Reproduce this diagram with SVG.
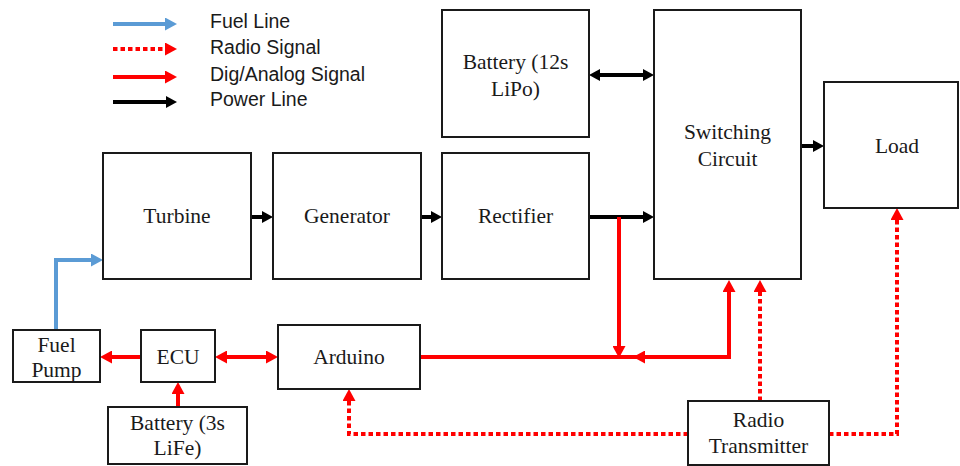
<svg xmlns="http://www.w3.org/2000/svg" width="960" height="466" viewBox="0 0 960 466">
<style>
.box{fill:#fff;stroke:#1a1a1a;stroke-width:2}
.t{font-family:"Liberation Serif","Times New Roman",serif;font-size:21.5px;fill:#1a1a1a;text-anchor:middle}
.lg{font-family:"Liberation Sans",Arial,sans-serif;font-size:19.5px;fill:#1a1a1a}
.pw{fill:none;stroke:#000;stroke-width:4}
.sig{fill:none;stroke:#ff0000;stroke-width:4}
.rad{fill:none;stroke:#ff0000;stroke-width:4;stroke-dasharray:4.5 3}
.fuel{fill:none;stroke:#5b9bd5;stroke-width:4}
</style>
<defs>
<marker id="hk" viewBox="0 0 11 12" refX="0" refY="6" markerWidth="11" markerHeight="12" markerUnits="userSpaceOnUse" orient="auto-start-reverse"><path d="M0,0 L11,6 L0,12z" fill="#000"/></marker>
<marker id="hr" viewBox="0 0 12 13" refX="0" refY="6.5" markerWidth="12" markerHeight="13" markerUnits="userSpaceOnUse" orient="auto-start-reverse"><path d="M0,0 L12,6.5 L0,13z" fill="#ff0000"/></marker>
<marker id="hb" viewBox="0 0 12 13" refX="0" refY="6.5" markerWidth="12" markerHeight="13" markerUnits="userSpaceOnUse" orient="auto-start-reverse"><path d="M0,0 L12,6.5 L0,13z" fill="#5b9bd5"/></marker>
</defs>

<g id="legend">
<path class="fuel" d="M113,24 H165" marker-end="url(#hb)"/>
<path class="rad" d="M113,49 H165" marker-end="url(#hr)"/>
<path class="sig" d="M113,77 H165" marker-end="url(#hr)"/>
<path class="pw" d="M113,102 H166" marker-end="url(#hk)"/>
<text class="lg" x="210" y="28">Fuel Line</text>
<text class="lg" x="210" y="54">Radio Signal</text>
<text class="lg" x="210" y="81">Dig/Analog Signal</text>
<text class="lg" x="210" y="106">Power Line</text>
</g>

<g id="connectors">
<path class="fuel" d="M56,330 V260 H91" marker-end="url(#hb)"/>
<path class="pw" d="M251,217 H262" marker-end="url(#hk)"/>
<path class="pw" d="M421,217 H431" marker-end="url(#hk)"/>
<path class="pw" d="M589,217 H643" marker-end="url(#hk)"/>
<path class="pw" d="M600,75 H643" marker-start="url(#hk)" marker-end="url(#hk)"/>
<path class="pw" d="M801,146 H813" marker-end="url(#hk)"/>
<path class="sig" d="M420,357 H640"/>
<path class="sig" d="M619,217 V346" marker-end="url(#hr)"/>
<path class="sig" d="M645,357 H729 V292" marker-start="url(#hr)" marker-end="url(#hr)"/>
<path class="sig" d="M141,357 H112" marker-end="url(#hr)"/>
<path class="sig" d="M227,357 H266" marker-start="url(#hr)" marker-end="url(#hr)"/>
<path class="sig" d="M178,407 V394" marker-end="url(#hr)"/>
<path class="rad" d="M688,434 H349 V401" marker-end="url(#hr)"/>
<path class="rad" d="M760,401 V292" marker-end="url(#hr)"/>
<path class="rad" d="M829,434 H897 V220" marker-end="url(#hr)"/>
</g>

<g id="turbine"><rect class="box" x="103" y="153" width="148" height="126"/><text class="t" x="177" y="223">Turbine</text></g>
<g id="generator"><rect class="box" x="273" y="153" width="148" height="126"/><text class="t" x="347" y="223">Generator</text></g>
<g id="rectifier"><rect class="box" x="442" y="153" width="147" height="126"/><text class="t" x="515.5" y="223">Rectifier</text></g>
<g id="battery12s"><rect class="box" x="442" y="10" width="147" height="127"/><text class="t" x="515.5" y="69">Battery (12s</text><text class="t" x="515.5" y="96">LiPo)</text></g>
<g id="switching"><rect class="box" x="654" y="10" width="147" height="269"/><text class="t" x="727.5" y="139">Switching</text><text class="t" x="727.5" y="166">Circuit</text></g>
<g id="load"><rect class="box" x="824" y="82" width="134" height="126"/><text class="t" x="897" y="153">Load</text></g>
<g id="fuelpump"><rect class="box" x="13" y="330" width="87" height="52"/><text class="t" x="56.5" y="352">Fuel</text><text class="t" x="56.5" y="377">Pump</text></g>
<g id="ecu"><rect class="box" x="141" y="330" width="74" height="52"/><text class="t" x="178" y="364">ECU</text></g>
<g id="battery3s"><rect class="box" x="108" y="407" width="139" height="57"/><text class="t" x="177.5" y="430">Battery (3s</text><text class="t" x="177.5" y="455">LiFe)</text></g>
<g id="arduino"><rect class="box" x="278" y="325" width="142" height="64"/><text class="t" x="349" y="364">Arduino</text></g>
<g id="radio"><rect class="box" x="688" y="401" width="141" height="64"/><text class="t" x="758.5" y="427">Radio</text><text class="t" x="758.5" y="453">Transmitter</text></g>
</svg>
